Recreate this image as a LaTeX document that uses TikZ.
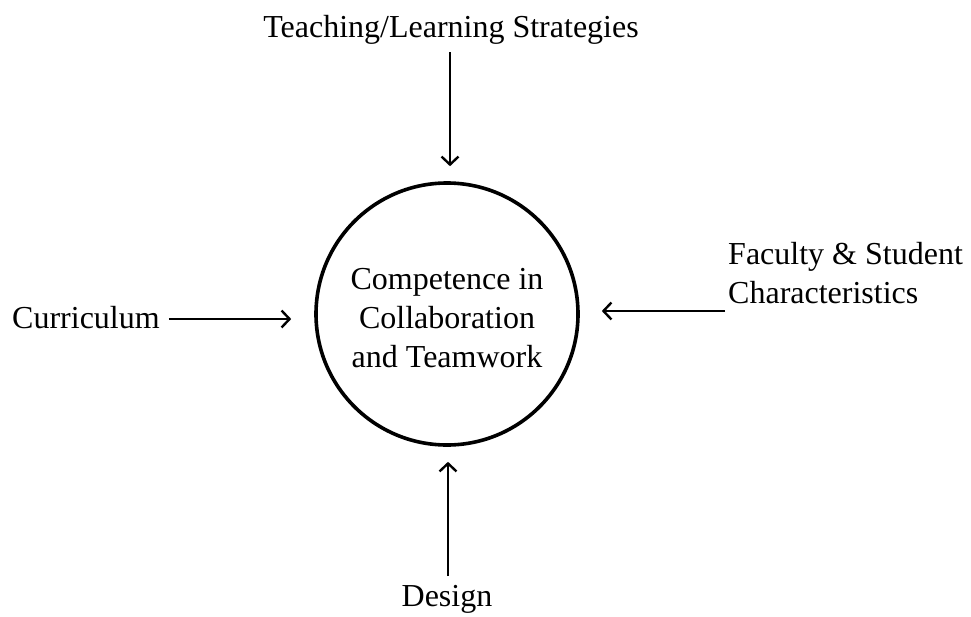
\documentclass[tikz,border=0pt]{standalone}
\usepackage{fontspec}
\setmainfont{Liberation Serif}
\usetikzlibrary{arrows.meta}
\begin{document}
\begin{tikzpicture}[x=1pt,y=-1pt,
  lbl/.style={inner sep=0pt, font=\fontsize{32}{39}\selectfont},
  arr/.style={line width=2.4pt, -{Straight Barb[length=8pt,width=17pt,line width=2.4pt]}},
  hub/.style={circle, draw, line width=3.6pt, minimum size=262pt, inner sep=0pt}]
\useasboundingbox (0,0) rectangle (971,616);

% central circle and its text
\node[hub] (c) at (447,314) {};
\node[lbl, align=center] (ct) at (447,318) {Competence in\\Collaboration\\and Teamwork};

% surrounding influences
\node[lbl, anchor=base] (tl) at (451,37) {Teaching/Learning Strategies};
\node[lbl, anchor=base west] (cur) at (12,328) {Curriculum};
\node[lbl, anchor=base west, align=left] (fac) at (728,303) {Faculty \& Student\\Characteristics};
\node[lbl, anchor=base] (des) at (447,606) {Design};

% arrow anchors
\coordinate (tA) at (450,52);
\coordinate (fA) at (725,311);
\coordinate (bA) at (448,576);

% arrows into the circle
\draw[arr, shorten >=15pt] (tA) -- (tA |- c.north);
\draw[arr, shorten <=9pt, shorten >=23pt] (cur.east |- 0,319) -- (c.west |- 0,319);
\draw[arr, shorten >=22pt] (fA) -- (fA -| c.east);
\draw[arr, shorten >=15pt] (bA) -- (bA |- c.south);
\end{tikzpicture}
\end{document}
